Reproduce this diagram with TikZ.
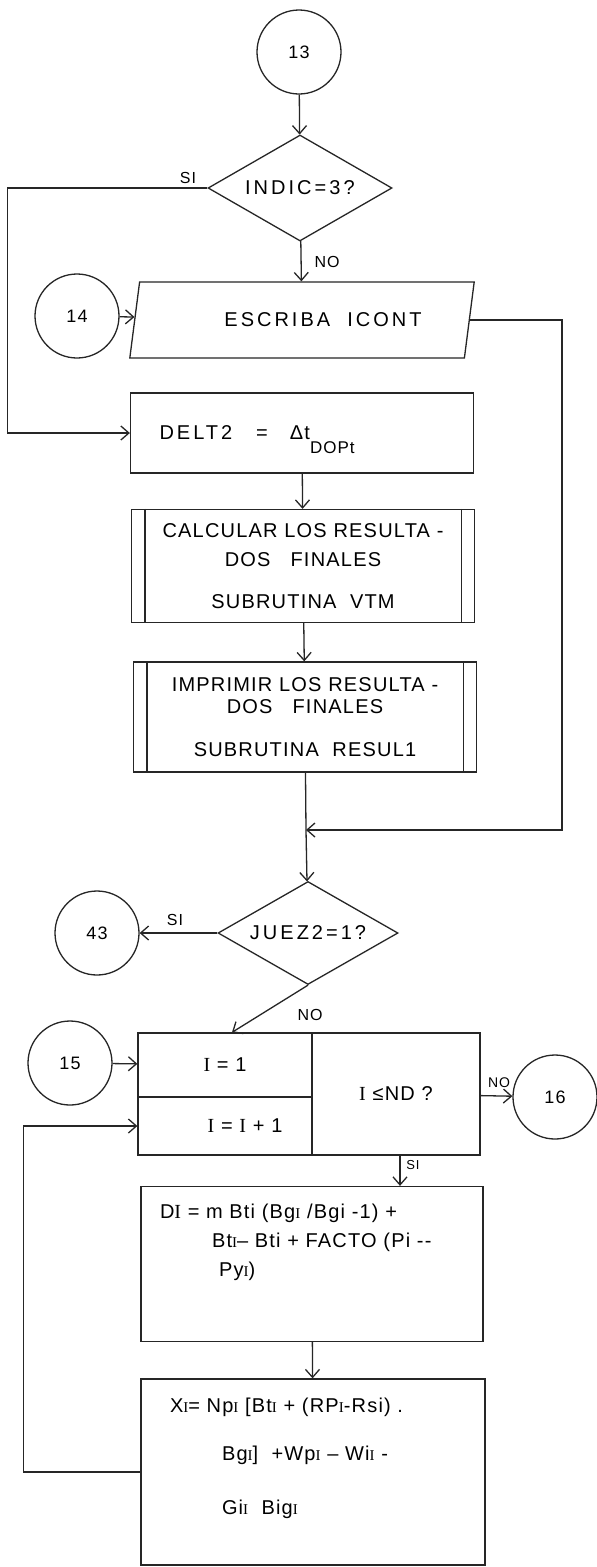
\documentclass[tikz,border=0pt]{standalone}
\usepackage{fontspec}
\setsansfont[LetterSpace=6]{Liberation Sans}
\newfontfamily\serifI{Liberation Serif}
\usetikzlibrary{arrows.meta,shapes.geometric}

\newcommand{\sI}{{\serifI\fontsize{15}{15}\selectfont I}}
\newcommand{\bI}{{\serifI I}}

\begin{document}
\begin{tikzpicture}[x=1pt,y=-1pt,
  font=\sffamily\fontsize{20}{29}\selectfont,line width=1.3pt,draw=black!85,
  >={Straight Barb[length=8pt,width=14pt]},
  conn/.style={draw,circle,minimum size=84pt,inner sep=0pt,
               font=\sffamily\fontsize{18}{20}\selectfont},
  dec/.style={draw,diamond,aspect=1.7,inner sep=0pt,
              font=\sffamily\fontsize{20}{22}\selectfont\addfontfeature{LetterSpace=15}},
  io/.style={draw,trapezium,trapezium left angle=63,trapezium right angle=117,
             trapezium stretches=true,minimum width=345pt,minimum height=76pt,inner sep=0pt},
  proc/.style={draw,rectangle,inner sep=0pt,align=center},
  lbl/.style={font=\sffamily\fontsize{16}{18}\selectfont,inner sep=1pt},
  ar/.style={->},
]
\useasboundingbox[fill=white] (0,0) rectangle (597,1567);

% upper column
\node[conn] (c13) at (299,52) {13};
\node[dec,minimum width=184pt,minimum height=106pt] (d1) at (300,188) {INDIC=3\,?};
\node[io] (out) at (302,320) {\hspace*{42pt}\addfontfeature{LetterSpace=15}ESCRIBA\ \ ICONT};
\node[conn] (c14) at (77,316) {14};
\node[proc,minimum height=80pt,text width=285pt,inner xsep=29pt,align=left] (delt) at (302,433)
  {{\addfontfeature{LetterSpace=15}DELT2}\hspace{24pt}=\hspace{22pt}Δt\raisebox{-14pt}[0pt][0pt]{\fontsize{17}{17}\selectfont DOPt}};
\node[proc,minimum width=343pt,minimum height=113pt] (calc) at (303,566)
  {CALCULAR LOS RESULTA -\\DOS\quad FINALES\\[13pt]SUBRUTINA\ \ VTM};
\node[proc,minimum width=343pt,minimum height=110pt] (impr) at (305,717)
  {IMPRIMIR LOS RESULTA -\\[-7pt]DOS\quad FINALES\\[14pt]SUBRUTINA\ \ RESUL1};
\foreach \n in {calc,impr}{
  \draw ([xshift=14pt]\n.north west) -- ([xshift=14pt]\n.south west);
  \draw ([xshift=-14pt]\n.north east) -- ([xshift=-14pt]\n.south east);}
\coordinate (jn) at (306,830);

% second decision and loop
\node[dec,minimum width=180pt,minimum height=103pt] (d2) at (308,933) {JUEZ2=1?};
\node[conn] (c43) at (97,933) {43};
\node[proc,minimum width=174pt,minimum height=64pt] (init) at (225,1065) {\bI\ = 1};
\node[proc,minimum width=174pt,minimum height=58pt] (incr) at (225,1126) {\hspace*{40pt}\bI\ = \bI\ + 1};
\node[proc,minimum width=168pt,minimum height=122pt] (test) at (396,1094) {\bI\ ≤ND ?};
\node[conn] (c15) at (70,1063) {15};
\node[conn] (c16) at (555,1097) {16};

% computation boxes
\node[proc,minimum height=155pt,text width=304pt,inner xsep=19pt,align=left] (DI) at (312,1264)
  {D\bI\ = m Bti (Bg\sI\ /Bgi -1) +\\
   \hspace*{52pt}Bt\sI-- Bti + FACTO (Pi -{}-\\
   \hspace*{59pt}Py\sI)\\[18pt]\mbox{}};
\node[proc,minimum height=186pt,text width=286pt,inner xsep=29pt,align=left] (XI) at (313,1472)
  {X\sI= Np\sI\ [Bt\sI\ + (RP\sI-Rsi) .\\[19pt]
   \hspace*{52pt}Bg\sI]\ \ +Wp\sI\ -- Wi\sI\ -\\[25pt]
   \hspace*{52pt}Gi\sI\ \ Big\sI\\[3pt]\mbox{}};

% connectors
\draw[ar] (c13) -- (d1);
\draw[ar] (d1) -- (out);
\draw[ar] (c14) -- (out);
\draw[ar] (d1.west) -- ++(-200,0) |- (delt.west);
\draw[ar] (delt) -- (calc);
\draw[ar] (calc) -- (impr);
\draw (impr) -- (jn);
\draw[ar] (out.east) -- ++(92,0) |- (jn);
\draw[ar] (jn) -- (d2);
\draw[ar] (d2.west) -- (c43);
\draw[ar] (d2.south) -- ([xshift=7pt]init.north);
\draw[ar] (c15) -- (init);
\draw[ar] (test) -- (c16);
\draw[ar] ([xshift=4pt]test.south) -- ([xshift=4pt]test.south |- DI.north);
\draw[ar] (DI) -- (XI);
\draw[ar] (XI.west) -- ++(-117,0) |- (incr.west);

% branch labels
\node[lbl] (siA) at (188,178) {SI};
\node[lbl] (noA) at (327,262) {NO};
\node[lbl] (siB) at (175,920) {SI};
\node[lbl] (noB) at (310,1015) {NO};
\node[lbl,font=\sffamily\fontsize{14}{16}\selectfont] (noC) at (499,1083) {NO};
\node[lbl,font=\sffamily\fontsize{13}{15}\selectfont] (siC) at (413,1165) {SI};
\end{tikzpicture}
\end{document}
